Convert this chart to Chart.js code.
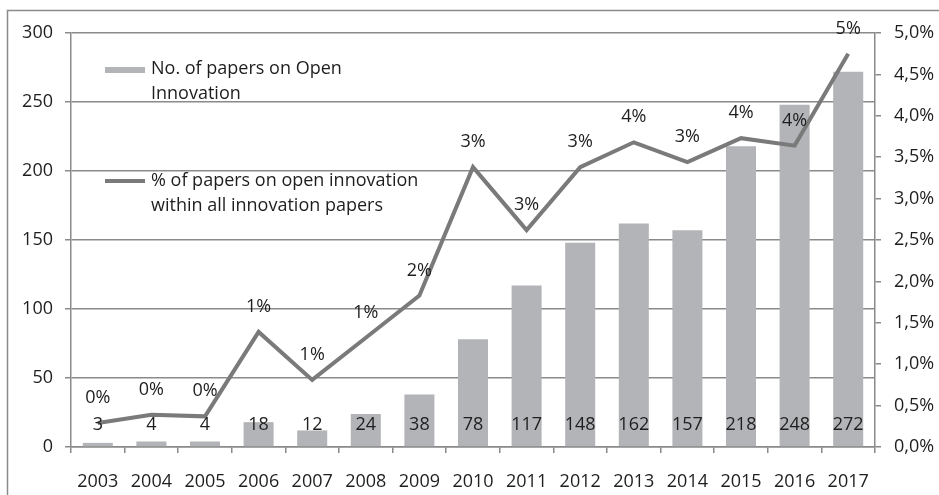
<!DOCTYPE html>
<html>
<head>
<meta charset="utf-8">
<script src="https://cdn.jsdelivr.net/npm/chart.js@4.4.1/dist/chart.umd.min.js"></script>
<style>
  html, body { margin: 0; padding: 0; background: #fff; }
  canvas { display: block; }
</style>
</head>
<body>
<canvas id="oiChart" width="939" height="495"></canvas>
<script>
// Data
const years = ['2003', '2004', '2005', '2006', '2007', '2008', '2009', '2010', '2011', '2012', '2013', '2014', '2015', '2016', '2017'];
const paperCounts = [3, 4, 4, 18, 12, 24, 38, 78, 117, 148, 162, 157, 218, 248, 272];
const sharePercent = [0.29, 0.39, 0.37, 1.39, 0.81, 1.32, 1.83, 3.38, 2.62, 3.38, 3.68, 3.44, 3.73, 3.64, 4.75];
const barLegendLines = ['No. of papers on Open', 'Innovation'];
const lineLegendLines = ['% of papers on open innovation', 'within all innovation papers'];

const FONT = '"Open Sans", sans-serif';
const FONT_SIZE = 18;
const TEXT = '#1e1e1e';
const AXIS = '#8a8a8a';
const BAR = '#b3b4b7';
const LINE = '#7a7a7a';

// frame round the whole chart
const framePlugin = {
    id: 'frame',
    beforeDraw(chart) {
        const ctx = chart.ctx;
        ctx.save();
        ctx.strokeStyle = AXIS;
        ctx.lineWidth = 1.5;
        ctx.strokeRect(7.5, 10.5, 2000, 2000);
        ctx.restore();
    }
};

// value labels: counts near the bottom, percentages above the line
const valueLabels = {
    id: 'valueLabels',
    afterDatasetsDraw(chart) {
        const ctx = chart.ctx;
        const yLeft = chart.scales.y;
        ctx.save();
        ctx.font = FONT_SIZE + 'px ' + FONT;
        ctx.fillStyle = TEXT;
        ctx.textAlign = 'center';
        ctx.textBaseline = 'middle';
        chart.getDatasetMeta(1).data.forEach((bar, i) => {
            ctx.fillText(String(paperCounts[i]), bar.x, yLeft.bottom - 22);
        });
        chart.getDatasetMeta(0).data.forEach((pt, i) => {
            ctx.fillText(Math.round(sharePercent[i]) + '%', pt.x, pt.y - 25);
        });
        ctx.restore();
    }
};

// legend drawn inside the plot, text wrapped on two lines
const insideLegend = {
    id: 'insideLegend',
    afterDraw(chart) {
        const ctx = chart.ctx;
        ctx.save();
        ctx.font = FONT_SIZE + 'px ' + FONT;
        ctx.textAlign = 'left';
        ctx.textBaseline = 'middle';

        ctx.fillStyle = BAR;
        ctx.fillRect(105, 67, 40, 6);
        ctx.fillStyle = TEXT;
        barLegendLines.forEach((t, i) => ctx.fillText(t, 151, 69 + i * 25));

        ctx.strokeStyle = LINE;
        ctx.lineWidth = 4;
        ctx.beginPath();
        ctx.moveTo(105, 181);
        ctx.lineTo(145, 181);
        ctx.stroke();
        lineLegendLines.forEach((t, i) => ctx.fillText(t, 151, 181 + i * 25));
        ctx.restore();
    }
};

const ctx = document.getElementById('oiChart').getContext('2d');
new Chart(ctx, {
    type: 'bar',
    data: {
        labels: years,
        datasets: [{
            type: 'line',
            label: lineLegendLines.join(' '),
            data: sharePercent,
            yAxisID: 'y1',
            borderColor: LINE,
            borderWidth: 4,
            pointRadius: 0,
            tension: 0,
            fill: false,
            order: 0
        }, {
            type: 'bar',
            label: barLegendLines.join(' '),
            data: paperCounts,
            yAxisID: 'y',
            backgroundColor: BAR,
            barPercentage: 0.56,
            categoryPercentage: 1,
            order: 1
        }]
    },
    options: {
        responsive: false,
        animation: false,
        devicePixelRatio: 1,
        layout: { padding: { top: 33, left: 0, right: 0, bottom: 0 } },
        plugins: {
            legend: { display: false },
            tooltip: { enabled: false }
        },
        scales: {
            x: {
                offset: true,
                grid: { drawOnChartArea: false, drawTicks: true, tickLength: 6, color: AXIS, lineWidth: 1.5, offset: true },
                border: { color: AXIS, width: 1.5 },
                ticks: { color: TEXT, font: { family: FONT, size: FONT_SIZE }, padding: 18, maxRotation: 0 },
                afterFit(scale) { scale.height = 48; }
            },
            y: {
                position: 'left',
                min: 0,
                max: 300,
                ticks: { stepSize: 50, color: TEXT, font: { family: FONT, size: FONT_SIZE }, padding: 12 },
                grid: { color: AXIS, lineWidth: 1.5, tickLength: 6 },
                border: { color: AXIS, width: 1.5 },
                afterFit(scale) { scale.width = 71; }
            },
            y1: {
                position: 'right',
                min: 0,
                max: 5,
                ticks: {
                    stepSize: 0.5,
                    color: TEXT,
                    font: { family: FONT, size: FONT_SIZE },
                    padding: 13,
                    callback: v => v.toFixed(1).replace('.', ',') + '%'
                },
                grid: { drawOnChartArea: false, color: AXIS, lineWidth: 1.5, tickLength: 6 },
                border: { color: AXIS, width: 1.5 },
                afterFit(scale) { scale.width = 64; }
            }
        }
    },
    plugins: [framePlugin, valueLabels, insideLegend]
});
</script>
</body>
</html>
